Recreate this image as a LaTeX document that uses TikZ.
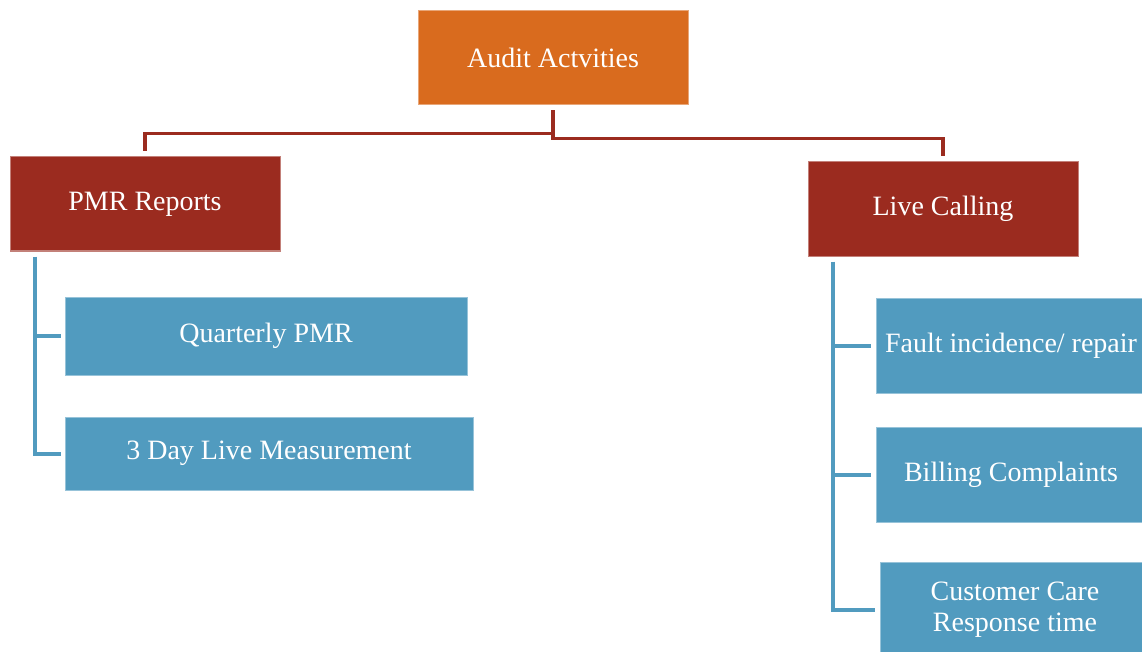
\documentclass[tikz,border=0pt]{standalone}
\usepackage{fontspec}
\setmainfont{Liberation Serif}
\usepackage{xcolor}
\usepackage{tikz}
\usetikzlibrary{positioning,calc}
\definecolor{AuditOrange}{RGB}{217,107,30}
\definecolor{BranchRed}{RGB}{155,43,31}
\definecolor{LeafBlue}{RGB}{81,155,191}
\tikzset{
    basebox/.style={rectangle, text=white, inner sep=2pt, align=center,
        font=\fontsize{28}{31}\selectfont, line width=1pt},
    topbox/.style={basebox, fill=AuditOrange, draw=AuditOrange!60!white,
        minimum width=270, minimum height=94},
    midbox/.style={basebox, fill=BranchRed, draw=BranchRed!60!white,
        minimum width=270, minimum height=94},
    leafbox/.style={basebox, fill=LeafBlue, draw=LeafBlue!60!white,
        minimum height=78},
    redline/.style={draw=BranchRed, line width=3.5pt},
    blueline/.style={draw=LeafBlue, line width=4pt}
}
\begin{document}
\begin{tikzpicture}[x=1pt, y=-1pt]
    % --- khung ---
    \useasboundingbox (0,0) rectangle (1142,652);
    \clip (0,0) rectangle (1142,652);

    % --- các hộp ---
    \node[topbox] (audit) at (553,58) {Audit Actvities};
    \node[midbox] (pmr) at (145,204) {PMR Reports};
    \node[midbox] (live) at (943,209) {Live Calling};

    % Nhánh trái
    \node[leafbox, minimum width=402] (qpmr) at (266,336) {Quarterly PMR};
    \node[leafbox, minimum width=408, minimum height=73] (dlm) at (269,453.5) {3 Day Live Measurement};

    % Nhánh phải (tràn ra mép phải)
    \node[leafbox, minimum width=270, minimum height=95] (fault) at (1011,345.5) {Fault incidence/ repair};
    \node[leafbox, minimum width=270, minimum height=95] (bill) at (1011,474.5) {Billing Complaints};
    \node[leafbox, minimum width=270, minimum height=95] (care) at (1015,610) {Customer Care\\Response time};

    % --- đường nối đỏ ---
    \draw[redline] ([yshift=-5pt]audit.south) -- ++(0,23) -| ([yshift=5pt]pmr.north);
    \draw[redline] ([yshift=-27pt]audit.south) -- ++(0,6) -| ([yshift=5pt]live.north);

    % --- đường nối xanh ---
    \coordinate (ptrunk) at ([xshift=25pt,yshift=-5pt]pmr.south west);
    \draw[blueline] (ptrunk) |- ([xshift=-4pt]dlm.west);
    \draw[blueline] (ptrunk |- qpmr.west) -- ([xshift=-4pt]qpmr.west);

    \coordinate (ltrunk) at ([xshift=25pt,yshift=-5pt]live.south west);
    \draw[blueline] (ltrunk) |- ([xshift=-5pt]care.west);
    \draw[blueline] (ltrunk |- fault.west) -- ([xshift=-5pt]fault.west);
    \draw[blueline] (ltrunk |- bill.west) -- ([xshift=-5pt]bill.west);
\end{tikzpicture}
\end{document}
